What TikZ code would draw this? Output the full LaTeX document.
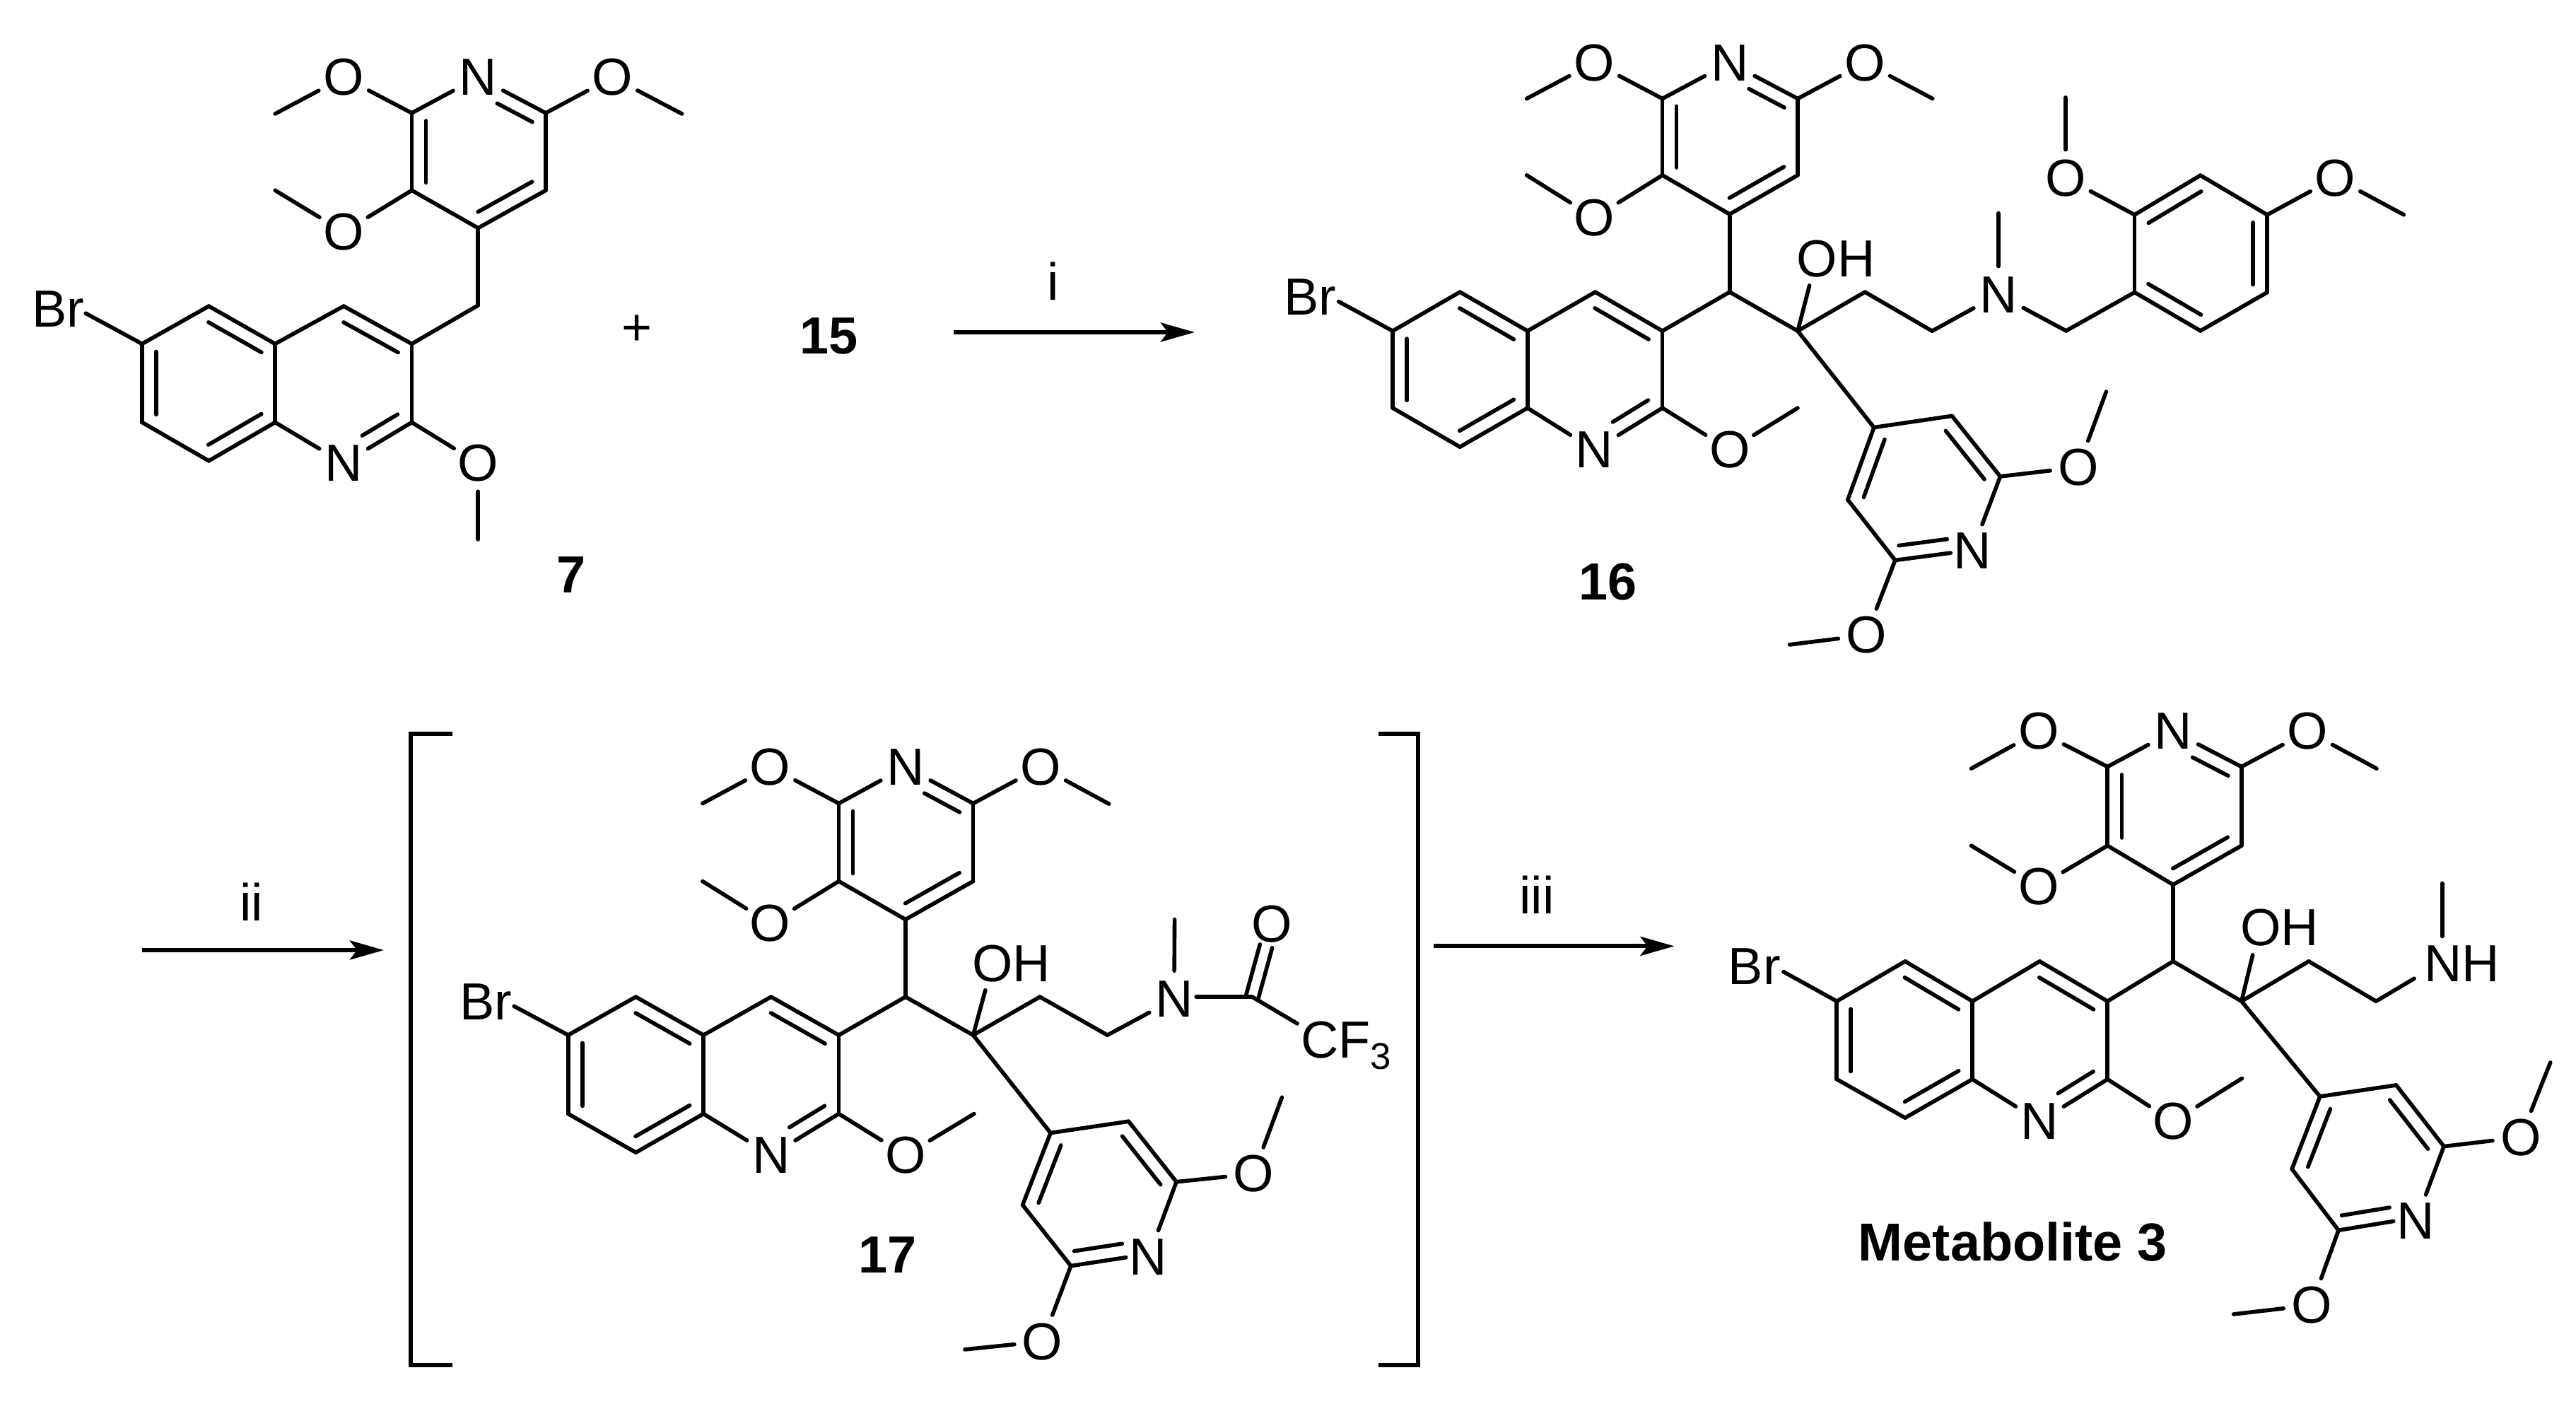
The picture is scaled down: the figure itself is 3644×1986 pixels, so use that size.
\documentclass[tikz,border=0pt]{standalone}
\usepackage{fontspec}
\setmainfont{Liberation Sans}
\usetikzlibrary{calc,arrows.meta}
\tikzset{
  bond/.style={line width=0.056cm,line cap=round,line join=round},
  rxn/.style={line width=0.06cm,-{Stealth[length=0.48cm,width=0.27cm,inset=0.1cm]}},
  brack/.style={line width=0.058cm,line join=miter},
  lab/.style={inner sep=0pt,outer sep=0pt,font=\fontsize{21}{24}\selectfont},
  cmpd/.style={lab,font=\fontsize{21}{24}\selectfont\bfseries},
  atom/.style={lab,circle,minimum size=0.8cm}
}
\newcommand\bd[2]{\draw[bond] (#1) -- (#2);}
\newcommand\dbl[5][0.2cm]{\draw[bond] ($(#2)!#4!(#3)!#1!90:(#3)$) -- ($(#3)!#5!(#2)!#1!-90:(#2)$);}
% upper pyridine and quinoline
\newcommand\upperq[1]{%
  \bd{#1c2}{#1n}\bd{#1n}{#1c6}\bd{#1c6}{#1c5}\bd{#1c5}{#1c4}\bd{#1c4}{#1c3}\bd{#1c3}{#1c2}
  \dbl{#1c6}{#1n}{.1}{.38}\dbl{#1c2}{#1c3}{.1}{.1}\dbl{#1c4}{#1c5}{.1}{.1}
  \bd{#1c2}{#1oa}\bd{#1oa}{#1ma}\bd{#1c6}{#1ob}\bd{#1ob}{#1mb}\bd{#1c3}{#1oc}\bd{#1oc}{#1mc}
  \bd{#1q3}{#1q4}\bd{#1q4}{#1qa}\bd{#1qa}{#1q5}\bd{#1q5}{#1q6}\bd{#1q6}{#1q7}\bd{#1q7}{#1q8}
  \bd{#1q8}{#1qb}\bd{#1qb}{#1qn}\bd{#1qn}{#1q2}\bd{#1q2}{#1q3}\bd{#1qa}{#1qb}
  \dbl{#1q3}{#1q4}{.1}{.1}\dbl{#1qa}{#1q5}{.1}{.1}\dbl{#1q6}{#1q7}{.1}{.1}
  \dbl{#1q8}{#1qb}{.1}{.1}\dbl{#1qn}{#1q2}{.38}{.1}
  \bd{#1q2}{#1qo}\bd{#1qo}{#1qm}\bd{#1q6}{#1be}
  \bd{#1c4}{#1ch}\bd{#1ch}{#1q3}}
% carbinol carbon, chain and lower pyridine
\newcommand\coreb[1]{%
  \bd{#1coh}{#1ch}\bd{#1coh}{#1ohe}\bd{#1coh}{#1ca}\bd{#1ca}{#1cb}\bd{#1coh}{#1l4}
  \bd{#1l4}{#1l3}\bd{#1l3}{#1l2}\bd{#1l2}{#1ln}\bd{#1l6}{#1ne}\bd{#1l6}{#1l5}\bd{#1l5}{#1l4}
  \dbl{#1l4}{#1l5}{.1}{.1}\dbl{#1l6}{#1ne}{.1}{.03}\dbl{#1l2}{#1l3}{.1}{.1}
  \bd{#1l2}{#1lo1}\bd{#1lo1}{#1lm1}\bd{#1l6}{#1lo2}\bd{#1lo2}{#1lm2}}
\begin{document}
\begin{tikzpicture}[x=0.01cm,y=-0.01cm]
\useasboundingbox (0,0) rectangle (3644,1986);

% ---------- compound 7
\begin{scope}[xscale=.638,yscale=.561]
\foreach \n/\x/\y in {c2/913/285,c6/1210/285,c5/1210/480,c4/1060/575,c3/913/480,ma/610/287,mb/1512/287,mc/610/480,
  ch/1060/770,q3/913/867,q4/762/772,qa/610/867,q5/463/772,q6/315/867,q7/315/1065,q8/463/1162,qb/610/1065,q2/913/1065,qm/1060/1360,be/190/790}
  \coordinate (A\n) at (\x,\y);
\node[atom] (An) at (1060,195) {N};
\node[atom] (Aoa) at (762,195) {O};
\node[atom] (Aob) at (1358,195) {O};
\node[atom] (Aoc) at (762,585) {O};
\node[atom] (Aqn) at (762,1168) {N};
\node[atom] (Aqo) at (1060,1168) {O};
\node[lab] (Abr) at (129,779) {Br};
\node[cmpd] (A7) at (1267,1450) {7};
\node[lab] (plus) at (1413,832) {+};
\end{scope}
\upperq{A}

% ---------- compound 16
\begin{scope}[shift={(1780,0)},xscale=.638,yscale=.612]
\foreach \n/\x/\y in {c2/896/228,c6/1196/228,c5/1196/405,c4/1045/495,c3/896/405,ma/595/228,mb/1495/228,mc/595/405,
  ch/1045/675,q3/896/765,q4/747/675,qa/597/765,q5/447/675,q6/298/765,q7/298/943,q8/447/1033,qb/597/943,q2/896/943,qm/1196/943,be/178/697,
  coh/1196/765,ohe/1222/660,ca/1345/675,cb/1494/765,l4/1365/988,l5/1307/1155,l6/1412/1295,ne/1535/1278,lm2/1178/1490}
  \coordinate (B\n) at (\x,\y);
\node[atom] (Bn) at (1045,145) {N};
\node[atom] (Boa) at (745,145) {O};
\node[atom] (Bob) at (1345,145) {O};
\node[atom] (Boc) at (745,503) {O};
\node[atom] (Bqn) at (745,1040) {N};
\node[atom] (Bqo) at (1045,1040) {O};
\node[atom] (Blo2) at (1348,1468) {O};
\node[lab] (Bbr) at (115,686) {Br};
\node[lab] (Boh) at (1281,598) {OH};
\node[cmpd] (B16) at (775,1345) {16};
\end{scope}
\begin{scope}[shift={(2640,100)},xscale=.638,yscale=.446]
\foreach \n/\x/\y in {l3/190/1095,l2/297/1287,lm1/532/1018,nm/293/452,c7/443/825,r1/595/703,r2/595/457,r3/741/332,r4/889/457,r5/889/703,r6/741/825,m7/442/85,m8/1192/457}
  \coordinate (B\n) at (\x,\y);
\node[atom] (Bln) at (235,1523) {N};
\node[atom] (Blo1) at (470,1258) {O};
\node[atom] (Bnn) at (293,710) {N};
\node[atom] (Bo7) at (442,340) {O};
\node[atom] (Bo8) at (1040,340) {O};
\end{scope}
\upperq{B}\coreb{B}
\bd{Bcb}{Bnn}\bd{Bnn}{Bnm}\bd{Bnn}{Bc7}\bd{Bc7}{Br1}
\bd{Br1}{Br2}\bd{Br2}{Br3}\bd{Br3}{Br4}\bd{Br4}{Br5}\bd{Br5}{Br6}\bd{Br6}{Br1}
\dbl{Br3}{Br2}{.1}{.1}\dbl{Br1}{Br6}{.1}{.1}\dbl{Br5}{Br4}{.1}{.1}
\bd{Br2}{Bo7}\bd{Bo7}{Bm7}\bd{Br4}{Bo8}\bd{Bo8}{Bm8}

% ---------- compound 17
\begin{scope}[shift={(560,1000)},xscale=.638,yscale=.629]
\foreach \n/\x/\y in {c2/982/217,c6/1280/217,c5/1280/392,c4/1130/478,c3/982/392,ma/680/217,mb/1581/218,mc/680/392,
  ch/1130/652,q3/982/738,q4/832/652,qa/682/738,q5/532/652,q6/382/738,q7/382/915,q8/532/1002,qb/682/915,q2/982/915,qm/1282/915,be/262/673,
  coh/1280/738,ohe/1307/637,ca/1428/652,brA/125/60,brB/33/60,brC/33/1480,brD/125/1480}
  \coordinate (C\n) at (\x,\y);
\node[atom] (Cn) at (1130,135) {N};
\node[atom] (Coa) at (830,135) {O};
\node[atom] (Cob) at (1430,135) {O};
\node[atom] (Coc) at (830,487) {O};
\node[atom] (Cqn) at (832,1008) {N};
\node[atom] (Cqo) at (1130,1008) {O};
\node[lab] (Cbr) at (200,663) {Br};
\node[lab] (Coh) at (1365,578) {OH};
\node[cmpd] (C17) at (1090,1232) {17};
\end{scope}
\begin{scope}[shift={(1400,1000)},xscale=.638,yscale=.629]
\foreach \n/\x/\y in {cb/261/738,nm/410/478,nr/458/652,cc/582/652,cfe/682/712,l4/135/958,l3/308/932,l2/414/1068,ne/302/1238,l6/180/1257,l5/73/1120,lm1/648/878,lm2/-55/1445,brE/862/60,brF/950/60,brG/950/1480,brH/862/1480,
  iiia/985/538,iiib/1518/538}
  \coordinate (C\n) at (\x,\y);
\node[atom] (Cln) at (352,1237) {N};
\node[atom] (Clo1) at (585,1050) {O};
\node[atom] (Clo2) at (117,1427) {O};
\node[atom] (Cnn) at (409,657) {N};
\node[atom] (Cco) at (626,489) {O};
\node[lab,anchor=base west] (Ccf) at (690,790) {CF\raisebox{-0.16cm}{\fontsize{15}{18}\selectfont 3}};
\node[lab] (iii) at (1213,422) {iii};
\end{scope}
\upperq{C}\coreb{C}
\bd{Ccb}{Cnn}\bd{Cnn}{Cnm}\bd{Cnr}{Ccc}\bd{Ccc}{Ccfe}
\dbl[0.09cm]{Ccc}{Cco}{0}{.3}\dbl[0.09cm]{Cco}{Ccc}{.3}{0}
\draw[brack] (CbrA) -- (CbrB) -- (CbrC) -- (CbrD);
\draw[brack] (CbrE) -- (CbrF) -- (CbrG) -- (CbrH);

% ---------- metabolite 3
\begin{scope}[shift={(2400,980)},xscale=.793,yscale=.6416]
\foreach \n/\x/\y in {c2/733/163,c6/972/163,c5/972/337,c4/850/423,c3/733/337,ma/490/167,mb/1213/167,mc/490/337,
  ch/850/592,q3/733/680,q4/612/592,qa/492/680,q5/372/592,q6/250/680,q7/250/852,q8/372/937,qb/492/852,q2/733/852,qm/973/850,be/155/615,
  coh/972/680,ohe/992/578,ca/1092/592,cb/1212/680,l4/1112/890,l3/1248/865,l2/1333/1000,ne/1243/1165,l6/1145/1185,l5/1062/1050,lm1/1523/815,lm2/958/1370,
  nhe/1280/630,nhf/1330/537,nm/1330/420}
  \coordinate (D\n) at (\x,\y);
\node[atom] (Dn) at (850,85) {N};
\node[atom] (Doa) at (610,85) {O};
\node[atom] (Dob) at (1090,85) {O};
\node[atom] (Doc) at (610,427) {O};
\node[atom] (Dqn) at (612,945) {N};
\node[atom] (Dqo) at (850,945) {O};
\node[atom] (Dln) at (1283,1165) {N};
\node[atom] (Dlo1) at (1470,980) {O};
\node[atom] (Dlo2) at (1097,1350) {O};
\node[lab] (Dbr) at (103,604) {Br};
\node[lab] (Doh) at (1040,517) {OH};
\node[lab] (Dnh) at (1365,597) {NH};
\node[cmpd,font=\fontsize{21.5}{24}\selectfont\bfseries] (D3) at (564,1211) {Metabolite 3};
\end{scope}
\upperq{D}\coreb{D}
\bd{Dcb}{Dnhe}\bd{Dnhf}{Dnm}

% ---------- arrows
\coordinate (ia) at (1349,470);
\coordinate (ib) at (1690,470);
\coordinate (iia) at (201,1344);
\coordinate (iib) at (543,1344);
\draw[rxn] (ia) -- (ib);
\draw[rxn] (iia) -- (iib);
\draw[rxn] (Ciiia) -- (Ciiib);
\node[lab] (ilab) at (1490,398) {i};
\node[lab] (iilab) at (356,1276) {ii};
\node[cmpd] (c15) at (1173,475) {15};
\end{tikzpicture}
\end{document}
